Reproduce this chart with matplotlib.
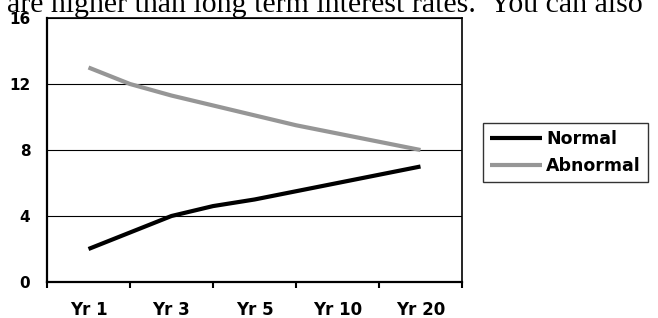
import matplotlib
matplotlib.use("Agg")
import matplotlib.pyplot as plt
from matplotlib.ticker import FixedLocator

# ---- data ----
x_labels = ["Yr 1", "Yr 3", "Yr 5", "Yr 10", "Yr 20"]
normal = [2, 3, 4, 4.6, 5, 5.5, 6, 6.5, 7]
abnormal = [13, 12, 11.3, 10.7, 10.1, 9.5, 9, 8.5, 8]
y_ticks = [0, 4, 8, 12, 16]
header_text = "are higher than long term interest rates.  You can also"

W, H = 658, 318
fig = plt.figure(figsize=(W / 100, H / 100), dpi=100)
fig.patch.set_facecolor("white")

# header text (clipped at top, like the source page)
fig.text(7 / W, 1 - 11.5 / H, header_text, family="Liberation Serif",
         fontsize=21.5, va="baseline", ha="left", color="black")

ax = fig.add_axes([47 / W, 1 - 282 / H, (462 - 47) / W, (282 - 18) / H])

xs = list(range(1, len(normal) + 1))
ax.plot(xs, normal, color="black", lw=3.0, solid_capstyle="butt",
        solid_joinstyle="round", label="Normal", zorder=3)
ax.plot(xs, abnormal, color="#969696", lw=3.0, solid_capstyle="butt",
        solid_joinstyle="round", label="Abnormal", zorder=3)

ax.set_xlim(0, len(normal) + 1)
ax.set_ylim(0, 16)

# y axis
ax.set_yticks(y_ticks)
ax.set_yticklabels([str(v) for v in y_ticks])
ax.yaxis.grid(True, color="black", lw=0.8)
ax.set_axisbelow(True)
ax.tick_params(axis="y", length=0, pad=12)

# x axis: tick marks between label groups, labels at odd positions
ax.xaxis.set_major_locator(FixedLocator(list(range(0, len(normal) + 2, 2))))
ax.set_xticklabels([""] * len(ax.get_xticks()))
ax.set_xticks(list(range(1, len(normal) + 1, 2)), minor=True)
ax.set_xticklabels(x_labels, minor=True)
ax.tick_params(axis="x", which="major", length=4, width=1.5, direction="out")
ax.tick_params(axis="x", which="minor", length=0, pad=14)

for lab in ax.get_yticklabels():
    lab.set_fontfamily("DejaVu Sans")
    lab.set_fontweight("bold")
    lab.set_fontsize(11)
for lab in ax.get_xticklabels(minor=True):
    lab.set_fontfamily("DejaVu Sans")
    lab.set_fontweight("bold")
    lab.set_fontsize(12)

for side in ["left", "bottom"]:
    ax.spines[side].set_linewidth(1.6)
for side in ["top", "right"]:
    ax.spines[side].set_linewidth(1.2)
for s in ax.spines.values():
    s.set_color("black")

leg = fig.legend(loc="upper left", bbox_to_anchor=(483 / W, 1 - 123 / H),
                 frameon=True, fancybox=False, shadow=False,
                 handlelength=3.0, handletextpad=0.25, borderpad=0.4,
                 labelspacing=0.5, borderaxespad=0,
                 prop={"family": "DejaVu Sans", "weight": "bold", "size": 12.5})
leg.get_frame().set_edgecolor("black")
leg.get_frame().set_linewidth(1.0)

fig.savefig("out.png", dpi=100)
